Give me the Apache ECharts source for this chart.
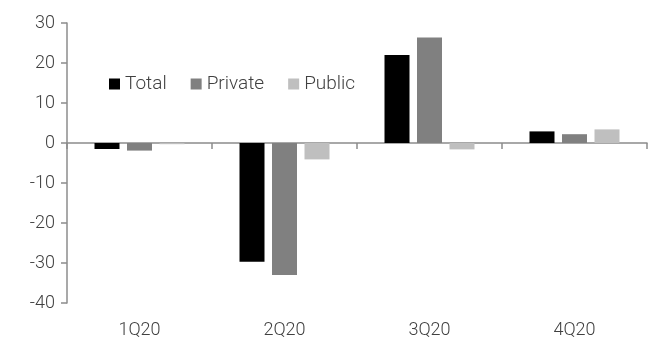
<!DOCTYPE html>
<html><head><meta charset="utf-8">
<script src="https://cdn.jsdelivr.net/npm/echarts@6/dist/echarts.min.js"></script>
<style>html,body{margin:0;padding:0;background:#fff}#c{width:657px;height:342px}</style>
</head><body><div id="c"></div>
<script>
const categories = ['1Q20', '2Q20', '3Q20', '4Q20'];
const totalValues = [-1.5, -29.7, 22.0, 2.9];
const privateValues = [-1.9, -33.0, 26.4, 2.2];
const publicValues = [-0.3, -4.1, -1.6, 3.4];
const yTicks = [-40, -30, -20, -10, 0, 10, 20, 30];

const chart = echarts.init(document.getElementById('c'));
const font = 'Roboto';
const txt = '#404040';
const axisCol = '#8c8c8c';
chart.setOption({
  animation: false,
  textStyle: { fontFamily: font },
  grid: { left: 67, right: 10, top: 23, bottom: 39 },
  legend: {
    left: 109, top: 74.5, padding: 0,
    itemWidth: 11, itemHeight: 11, itemGap: 24,
    icon: 'rect',
    textStyle: { fontFamily: font, fontSize: 19, color: txt, fontWeight: 300 },
    data: ['Total', 'Private', 'Public']
  },
  xAxis: [{
    type: 'category', data: categories,
    axisLine: { onZero: true, lineStyle: { color: axisCol, width: 1.5 } },
    axisTick: { show: true, length: 6, lineStyle: { color: axisCol, width: 1.5 } },
    axisLabel: { show: false }
  }, {
    type: 'category', data: categories, position: 'bottom',
    axisLine: { show: false, onZero: false }, axisTick: { show: false },
    axisLabel: { color: txt, fontSize: 18, margin: 18, fontFamily: font, fontWeight: 300 }
  }],
  yAxis: {
    type: 'value', min: yTicks[0], max: yTicks[yTicks.length - 1], interval: 10,
    splitLine: { show: false },
    axisLine: { show: true, lineStyle: { color: axisCol, width: 1.5 } },
    axisTick: { show: true, length: 6, lineStyle: { color: axisCol, width: 1.5 } },
    axisLabel: { color: txt, fontSize: 18, margin: 12, fontFamily: font, fontWeight: 300 }
  },
  series: [
    { name: 'Total', type: 'bar', data: totalValues, barWidth: 25, barGap: '30%',
      itemStyle: { color: '#000000' } },
    { name: 'Private', type: 'bar', data: privateValues, barWidth: 25, barGap: '30%',
      itemStyle: { color: '#808080' } },
    { name: 'Public', type: 'bar', data: publicValues, barWidth: 25, barGap: '30%',
      itemStyle: { color: '#bfbfbf' } }
  ]
});
</script></body></html>
